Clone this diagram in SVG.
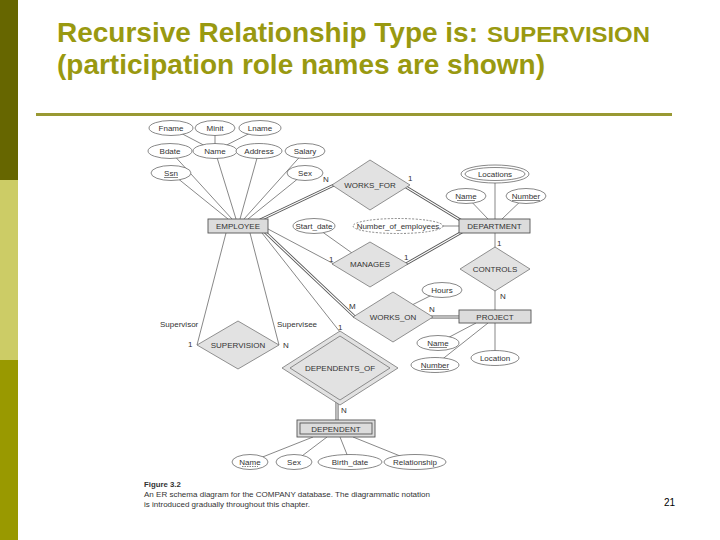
<svg xmlns="http://www.w3.org/2000/svg" width="720" height="540" viewBox="0 0 720 540">
<style>
.t{font-family:"Liberation Sans",Arial,sans-serif;font-size:8px;fill:#333}
.tm{text-anchor:middle}
.ln{stroke:#555;stroke-width:0.7;fill:none}
.dbo{stroke:#555;stroke-width:3;fill:none}
.dbi{stroke:#fff;stroke-width:1.2;fill:none}
.att{fill:#fff;stroke:#555;stroke-width:0.7}
.ent{fill:#dcdcdc;stroke:#555;stroke-width:0.9}
.rel{fill:#e2e2e2;stroke:#666;stroke-width:0.7}
.title{font-family:"Liberation Sans",Arial,sans-serif;font-weight:bold;fill:#999910}
.cap{font-family:"Liberation Sans",Arial,sans-serif;font-size:7.8px;fill:#333}
</style>
<rect x="0" y="0" width="720" height="540" fill="#fff"/>
<g id="sidebar">
<rect x="0" y="0" width="18" height="180" fill="#666600"/>
<rect x="0" y="180" width="18" height="180" fill="#cccc66"/>
<rect x="0" y="360" width="18" height="180" fill="#999900"/>
</g>
<g id="title">
<text class="title" x="57" y="42" font-size="28" textLength="421" lengthAdjust="spacingAndGlyphs">Recursive Relationship Type is:</text>
<text class="title" x="487" y="42" font-size="22" textLength="163" lengthAdjust="spacingAndGlyphs">SUPERVISION</text>
<text class="title" x="57" y="74" font-size="28" textLength="488" lengthAdjust="spacingAndGlyphs">(participation role names are shown)</text>
</g>
<line x1="36" y1="114.5" x2="672" y2="114.5" stroke="#999933" stroke-width="3"/>

<g id="connectors">
<line class="ln" x1="171" y1="128" x2="215" y2="151"/>
<line class="ln" x1="215" y1="128" x2="215" y2="151"/>
<line class="ln" x1="260" y1="128" x2="215" y2="151"/>
<line class="ln" x1="170" y1="151" x2="232" y2="219"/>
<line class="ln" x1="215" y1="151" x2="236" y2="219"/>
<line class="ln" x1="259" y1="151" x2="240" y2="219"/>
<line class="ln" x1="305" y1="151" x2="244" y2="219"/>
<line class="ln" x1="171" y1="173" x2="228" y2="219"/>
<line class="ln" x1="305" y1="173" x2="248" y2="219"/>
<line class="dbo" x1="260" y1="220" x2="334" y2="185"/>
<line class="dbi" x1="260" y1="220" x2="334" y2="185"/>
<line class="dbo" x1="406" y1="187" x2="462" y2="221"/>
<line class="dbi" x1="406" y1="187" x2="462" y2="221"/>
<line class="ln" x1="495" y1="175" x2="495" y2="219"/>
<line class="ln" x1="466" y1="196" x2="488" y2="219"/>
<line class="ln" x1="526" y1="196" x2="502" y2="219"/>
<line class="ln" x1="430" y1="226" x2="459" y2="226"/>
<line class="ln" x1="314" y1="226" x2="352" y2="253"/>
<line class="ln" x1="268" y1="229" x2="334" y2="264"/>
<line class="dbo" x1="406" y1="264" x2="462" y2="232"/>
<line class="dbi" x1="406" y1="264" x2="462" y2="232"/>
<line class="ln" x1="495" y1="233" x2="495" y2="310"/>
<line class="dbo" x1="265" y1="232" x2="355" y2="317"/>
<line class="dbi" x1="265" y1="232" x2="355" y2="317"/>
<line class="ln" x1="262" y1="233" x2="340" y2="332"/>
<line class="dbo" x1="431" y1="317" x2="460" y2="317"/>
<line class="dbi" x1="431" y1="317" x2="460" y2="317"/>
<line class="ln" x1="442" y1="290" x2="410" y2="306"/>
<line class="ln" x1="438" y1="343" x2="476" y2="323"/>
<line class="ln" x1="435" y1="365" x2="488" y2="323"/>
<line class="ln" x1="495" y1="323" x2="495" y2="358"/>
<line class="ln" x1="226" y1="233" x2="197" y2="345"/>
<line class="ln" x1="250" y1="233" x2="279" y2="345"/>
<line class="dbo" x1="337" y1="402" x2="337" y2="421"/>
<line class="dbi" x1="337" y1="402" x2="337" y2="421"/>
<line class="ln" x1="313" y1="437" x2="250" y2="462"/>
<line class="ln" x1="327" y1="437" x2="294" y2="462"/>
<line class="ln" x1="340" y1="437" x2="350" y2="462"/>
<line class="ln" x1="353" y1="437" x2="415" y2="462"/>
</g>

<g id="labels">
<text class="t" x="323" y="182">N</text>
<text class="t" x="408" y="181">1</text>
<text class="t" x="329" y="262">1</text>
<text class="t" x="404" y="260">1</text>
<text class="t" x="497" y="246">1</text>
<text class="t" x="500" y="299">N</text>
<text class="t" x="349" y="309">M</text>
<text class="t" x="429" y="312">N</text>
<text class="t" x="160" y="327">Supervisor</text>
<text class="t" x="277" y="327">Supervisee</text>
<text class="t" x="188" y="347">1</text>
<text class="t" x="283" y="348">N</text>
<text class="t" x="338" y="330">1</text>
<text class="t" x="341" y="413">N</text>
</g>

<g id="Fname"><ellipse class="att" cx="171" cy="128" rx="22" ry="7.5"/><text class="t tm" x="171" y="131">Fname</text></g>
<g id="Minit"><ellipse class="att" cx="215" cy="128" rx="20" ry="7.5"/><text class="t tm" x="215" y="131">Minit</text></g>
<g id="Lname"><ellipse class="att" cx="260" cy="128" rx="21" ry="7.5"/><text class="t tm" x="260" y="131">Lname</text></g>
<g id="Bdate"><ellipse class="att" cx="170" cy="151" rx="22" ry="7.5"/><text class="t tm" x="170" y="154">Bdate</text></g>
<g id="Name"><ellipse class="att" cx="215" cy="151" rx="22" ry="7.5"/><text class="t tm" x="215" y="154">Name</text></g>
<g id="Address"><ellipse class="att" cx="259" cy="151" rx="23" ry="7.5"/><text class="t tm" x="259" y="154">Address</text></g>
<g id="Salary"><ellipse class="att" cx="305" cy="151" rx="20" ry="7.5"/><text class="t tm" x="305" y="154">Salary</text></g>
<g id="Ssn"><ellipse class="att" cx="171" cy="173" rx="20" ry="7.5"/><text class="t tm" x="171" y="176">Ssn</text><line class="ln" x1="164" y1="177.5" x2="178" y2="177.5"/></g>
<g id="Sex"><ellipse class="att" cx="305" cy="173" rx="18" ry="7.5"/><text class="t tm" x="305" y="176">Sex</text></g>
<g id="EMPLOYEE"><rect class="ent" x="208" y="219" width="60" height="14"/><text class="t tm" x="238" y="229">EMPLOYEE</text></g>
<g id="Start_date"><ellipse class="att" cx="314" cy="226" rx="21" ry="7.5"/><text class="t tm" x="314" y="229">Start_date</text></g>
<g id="WORKS_FOR"><polygon class="rel" points="370,160 410,185 370,210 332,185"/><text class="t tm" x="370" y="188">WORKS_FOR</text></g>
<g id="Number_of_employees"><ellipse class="att" cx="398" cy="226" rx="45" ry="7.5" stroke-dasharray="2,1.5"/><text class="t tm" x="398" y="229">Number_of_employees</text></g>
<g id="Locations"><ellipse class="att" cx="495" cy="174" rx="34" ry="9"/><ellipse class="att" cx="495" cy="174" rx="30" ry="6.5"/><text class="t tm" x="495" y="177">Locations</text></g>
<g id="DeptName"><ellipse class="att" cx="466" cy="196" rx="20" ry="7.5"/><text class="t tm" x="466" y="199">Name</text><line class="ln" x1="457" y1="200.5" x2="475" y2="200.5"/></g>
<g id="DeptNumber"><ellipse class="att" cx="526" cy="196" rx="20" ry="7.5"/><text class="t tm" x="526" y="199">Number</text><line class="ln" x1="512" y1="200.5" x2="540" y2="200.5"/></g>
<g id="DEPARTMENT"><rect class="ent" x="459" y="219" width="71" height="14"/><text class="t tm" x="494.5" y="229">DEPARTMENT</text></g>
<g id="MANAGES"><polygon class="rel" points="370,242 408,264 370,287 332,264"/><text class="t tm" x="370" y="267">MANAGES</text></g>
<g id="CONTROLS"><polygon class="rel" points="495,247 530,269 495,291 460,269"/><text class="t tm" x="495" y="272">CONTROLS</text></g>
<g id="Hours"><ellipse class="att" cx="442" cy="290" rx="20" ry="7.5"/><text class="t tm" x="442" y="293">Hours</text></g>
<g id="WORKS_ON"><polygon class="rel" points="393,292 433,317 393,342 353,317"/><text class="t tm" x="393" y="320">WORKS_ON</text></g>
<g id="PROJECT"><rect class="ent" x="459" y="310" width="72" height="13"/><text class="t tm" x="495" y="319.5">PROJECT</text></g>
<g id="ProjName"><ellipse class="att" cx="438" cy="343" rx="21" ry="7.5"/><text class="t tm" x="438" y="346">Name</text><line class="ln" x1="429" y1="347.5" x2="447" y2="347.5"/></g>
<g id="ProjNumber"><ellipse class="att" cx="435" cy="365" rx="24" ry="7.5"/><text class="t tm" x="435" y="368">Number</text><line class="ln" x1="421" y1="369.5" x2="449" y2="369.5"/></g>
<g id="Location"><ellipse class="att" cx="495" cy="358" rx="24" ry="7.5"/><text class="t tm" x="495" y="361">Location</text></g>
<g id="SUPERVISION"><polygon class="rel" points="238,321 279,345 238,369 197,345"/><text class="t tm" x="238" y="348">SUPERVISION</text></g>
<g id="DEPENDENTS_OF"><polygon class="rel" points="340,331 398,368 340,405 282,368"/><polygon class="rel" points="340,336 390,368 340,400 290,368"/><text class="t tm" x="340" y="371">DEPENDENTS_OF</text></g>
<g id="DEPENDENT"><rect class="ent" x="297" y="420" width="78" height="17"/><rect class="ent" x="300" y="423" width="72" height="11"/><text class="t tm" x="336" y="431.5">DEPENDENT</text></g>
<g id="DepName"><ellipse class="att" cx="250" cy="462" rx="18" ry="7.5"/><text class="t tm" x="250" y="465">Name</text><line class="ln" x1="242" y1="466.5" x2="258" y2="466.5" stroke-dasharray="1.5,1"/></g>
<g id="DepSex"><ellipse class="att" cx="294" cy="462" rx="18" ry="7.5"/><text class="t tm" x="294" y="465">Sex</text></g>
<g id="Birth_date"><ellipse class="att" cx="350" cy="462" rx="32" ry="7.5"/><text class="t tm" x="350" y="465">Birth_date</text></g>
<g id="Relationship"><ellipse class="att" cx="415" cy="462" rx="31" ry="7.5"/><text class="t tm" x="415" y="465">Relationship</text></g>

<g id="caption">
<text class="cap" x="144" y="487" font-weight="bold">Figure 3.2</text>
<text class="cap" x="144" y="497" textLength="286" lengthAdjust="spacingAndGlyphs">An ER schema diagram for the COMPANY database. The diagrammatic notation</text>
<text class="cap" x="144" y="507" textLength="166" lengthAdjust="spacingAndGlyphs">is introduced gradually throughout this chapter.</text>
</g>
<text x="664" y="506" font-family="'Liberation Sans',Arial,sans-serif" font-size="10" fill="#000">21</text>
</svg>
